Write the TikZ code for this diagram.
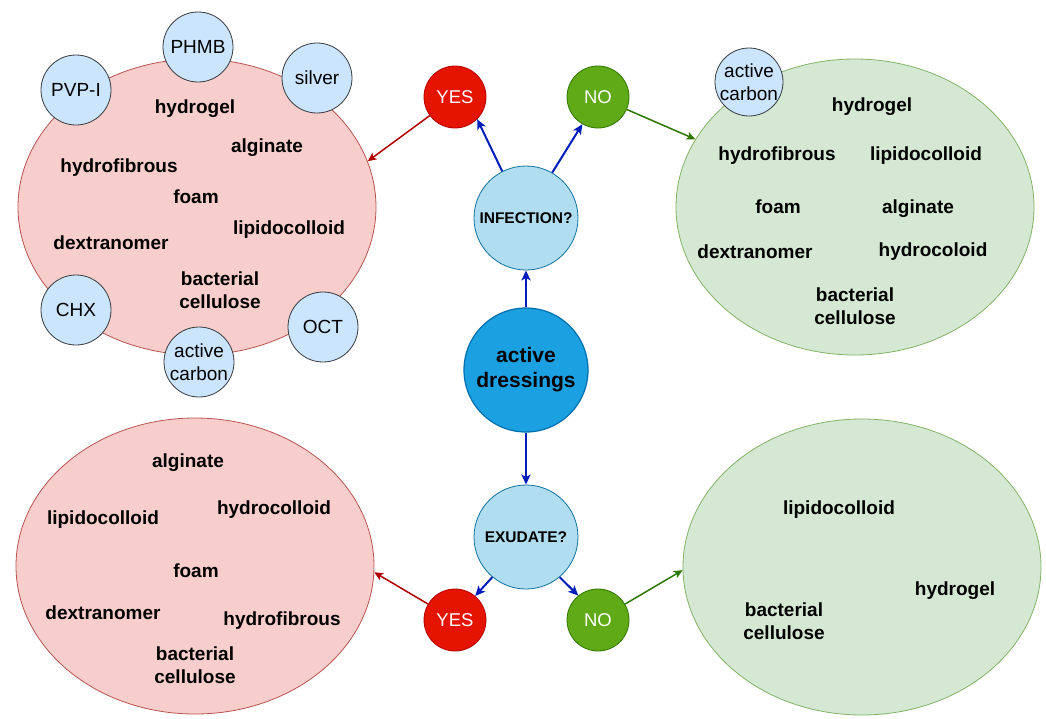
\documentclass[tikz,border=0pt]{standalone}
\usepackage{fontspec}
\setmainfont{Liberation Sans}
\usetikzlibrary{shapes.geometric,arrows.meta}
\definecolor{pinkF}{HTML}{F8CECC}
\definecolor{pinkB}{HTML}{B85450}
\definecolor{greenF}{HTML}{D5E8D4}
\definecolor{greenB}{HTML}{82B366}
\definecolor{chemF}{HTML}{CCE5FF}
\definecolor{chemB}{HTML}{36393D}
\definecolor{qF}{HTML}{B1DDF0}
\definecolor{qB}{HTML}{10739E}
\definecolor{actF}{HTML}{1BA1E2}
\definecolor{actB}{HTML}{006EAF}
\definecolor{yesF}{HTML}{E51400}
\definecolor{yesB}{HTML}{B20000}
\definecolor{noF}{HTML}{60A917}
\definecolor{noB}{HTML}{2D7600}
\definecolor{arrBlue}{HTML}{001DBC}
\begin{document}
\begin{tikzpicture}[x=1pt,y=-1pt,
  pinkell/.style={ellipse, draw=pinkB, fill=pinkF, minimum width=358pt, minimum height=296pt, inner sep=0pt, line width=0.8pt},
  greenell/.style={ellipse, draw=greenB, fill=greenF, minimum width=358pt, minimum height=296pt, inner sep=0pt, line width=0.8pt},
  chem/.style={circle, draw=chemB, fill=chemF, minimum size=70pt, inner sep=-6pt, align=center, font=\fontsize{19}{22.5}\selectfont, line width=0.8pt},
  item/.style={font=\bfseries\fontsize{19}{22.5}\selectfont, align=center, inner sep=0pt},
  question/.style={circle, draw=qB, fill=qF, minimum size=104pt, inner sep=0pt, font=\bfseries\fontsize{15.5}{18}\selectfont, line width=0.8pt},
  yesnode/.style={circle, draw=yesB, fill=yesF, minimum size=62pt, inner sep=0pt, text=white, font=\fontsize{18.5}{22}\selectfont, line width=0.8pt},
  nonode/.style={circle, draw=noB, fill=noF, minimum size=62pt, inner sep=0pt, text=white, font=\fontsize{18.5}{22}\selectfont, line width=0.8pt},
  bluearr/.style={draw=arrBlue, line width=2pt, -{Stealth[length=10pt,width=9pt,inset=2.5pt]}},
  redarr/.style={draw=yesB, line width=1.5pt, -{Stealth[length=9pt,width=8pt,inset=2.5pt]}},
  greenarr/.style={draw=noB, line width=1.5pt, -{Stealth[length=9pt,width=8pt,inset=2.5pt]}}
]
\useasboundingbox (0,0) rectangle (1046,718);

% ellipses
\node[pinkell] (p1) at (197,207) {};
\node[greenell] (g1) at (855,207) {};
\node[pinkell] (p2) at (195,566) {};
\node[greenell] (g2) at (862,567) {};

% top-left contents
\node[item] (tl1) at (195,109) {hydrogel};
\node[item] (tl2) at (267,148) {alginate};
\node[item] (tl3) at (119,168) {hydrofibrous};
\node[item] (tl4) at (196,197) {foam};
\node[item] (tl5) at (289,230) {lipidocolloid};
\node[item] (tl6) at (111,243) {dextranomer};
\node[item] (tl7) at (220,290) {bacterial\\cellulose};

% chemicals around top-left
\node[chem] (c1) at (198,47) {PHMB};
\node[chem] (c2) at (317,78) {silver};
\node[chem] (c3) at (76,90) {PVP-I};
\node[chem] (c4) at (76,310) {CHX};
\node[chem] (c5) at (199,362) {active\\carbon};
\node[chem] (c6) at (323,327) {OCT};

% top-right contents
\node[item] (tr1) at (872,107) {hydrogel};
\node[item] (tr2) at (777,156) {hydrofibrous};
\node[item] (tr3) at (926,156) {lipidocolloid};
\node[item] (tr4) at (778,207) {foam};
\node[item] (tr5) at (918,209) {alginate};
\node[item] (tr6) at (755,252) {dextranomer};
\node[item] (tr7) at (933,252) {hydrocoloid};
\node[item] (tr8) at (855,306) {bacterial\\cellulose};
\node[chem, minimum size=68pt] (c7) at (749,82) {active\\carbon};

% bottom-left contents
\node[item] (bl1) at (188,463) {alginate};
\node[item] (bl2) at (274,510) {hydrocolloid};
\node[item] (bl3) at (103,520) {lipidocolloid};
\node[item] (bl4) at (196,571) {foam};
\node[item] (bl5) at (103,613) {dextranomer};
\node[item] (bl6) at (282,621) {hydrofibrous};
\node[item] (bl7) at (195,665) {bacterial\\cellulose};

% bottom-right contents
\node[item] (br1) at (839,510) {lipidocolloid};
\node[item] (br2) at (955,591) {hydrogel};
\node[item] (br3) at (784,621) {bacterial\\cellulose};

% central nodes
\node[circle, draw=actB, fill=actF, minimum size=124pt, inner sep=0pt, align=center, font=\bfseries\fontsize{21}{25}\selectfont, line width=1.2pt] (act) at (526,370) {active\\dressings};
\node[question] (inf) at (526,218) {INFECTION?};
\node[question] (exu) at (526,537) {EXUDATE?};
\node[yesnode] (yes1) at (455,97) {YES};
\node[nonode] (no1) at (598,97) {NO};
\node[yesnode] (yes2) at (455,620) {YES};
\node[nonode] (no2) at (598,620) {NO};

% connectors
\draw[bluearr] (act) -- (inf);
\draw[bluearr] (act) -- (exu);
\draw[bluearr] (inf.117) -- (yes1.-45);
\draw[bluearr] (inf.60) -- (no1.240);
\draw[bluearr] (exu.230) -- (yes2.50);
\draw[bluearr] (exu.310) -- (no2.129);
\draw[redarr] (yes1) -- (p1.15);
\draw[greenarr] (no1) -- (g1.157);
\draw[redarr] (yes2) -- (p2.-2);
\draw[greenarr] (no2) -- (g2.181);
\end{tikzpicture}
\end{document}
